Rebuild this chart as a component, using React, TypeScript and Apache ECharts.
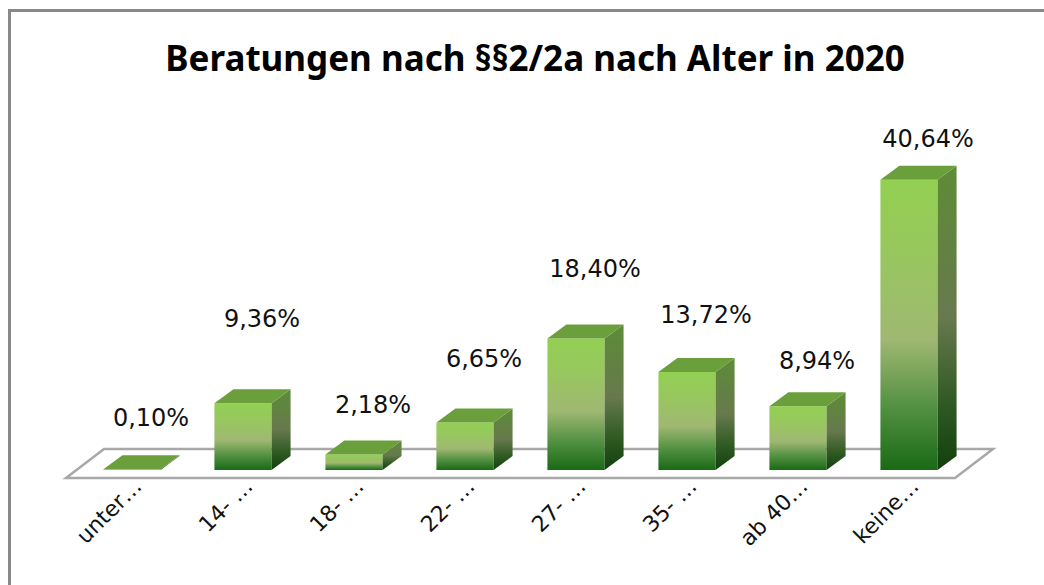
import React, { useEffect, useRef } from "react";
import * as echarts from "echarts";

const TITLE = "Beratungen nach §§2/2a nach Alter in 2020";
const categories = ["unter…", "14- …", "18- …", "22- …", "27- …", "35- …", "ab 40…", "keine…"];
const shares = [0.1, 9.36, 2.18, 6.65, 18.4, 13.72, 8.94, 40.64];

// style: vertical lift of each value label above its bar's front top edge (px)
const LABEL_LIFT = [51, 84, 49, 64, 70, 57, 45, 41];

const DX = 19;
const DY = 14;
const FONT = "DejaVu Sans";

const fmt = (v: number) => v.toFixed(2).replace(".", ",") + "%";

export default function App() {
  const ref = useRef<HTMLDivElement>(null);
  useEffect(() => {
    if (!ref.current) return;
    const chart = echarts.init(ref.current, null, { renderer: "svg" });
    const frontGrad = () =>
      new echarts.graphic.LinearGradient(0, 0, 0, 1, [
        { offset: 0, color: "#93d052" },
        { offset: 0.25, color: "#97c75e" },
        { offset: 0.55, color: "#a0b872" },
        { offset: 0.78, color: "#539143" },
        { offset: 1, color: "#1a6a15" },
      ]);
    const sideGrad = () =>
      new echarts.graphic.LinearGradient(0, 0, 0, 1, [
        { offset: 0, color: "#5d8c37" },
        { offset: 0.5, color: "#67794d" },
        { offset: 0.78, color: "#2f5a22" },
        { offset: 1, color: "#123f0e" },
      ]);
    const option: any = {
      animation: false,
      grid: { left: 76.5, right: 79.5, top: 148.7, bottom: 115, containLabel: false },
      xAxis: {
        type: "category",
        data: categories,
        axisLine: { show: false },
        axisTick: { show: false },
        axisLabel: {
          interval: 0,
          rotate: 45,
          margin: 18,
          padding: [0, -8, 0, 0],
          fontSize: 22,
          fontFamily: FONT,
          color: "#111",
        },
      },
      yAxis: { type: "value", min: 0, max: 45, show: false, splitLine: { show: false } },
      graphic: [
        {
          type: "rect",
          shape: { x: 9.5, y: 10.5, width: 1200, height: 800 },
          style: { fill: "none", stroke: "#898989", lineWidth: 3 },
          silent: true,
        },
        {
          type: "text",
          x: 535,
          y: 57,
          style: {
            text: TITLE,
            align: "center",
            verticalAlign: "middle",
            fontSize: 35,
            fontWeight: "bold",
            fontFamily: "Noto Sans",
            fill: "#000",
          },
        },
      ],
      series: [
        {
          type: "custom",
          z: 1,
          data: [[0, 0]],
          silent: true,
          renderItem: (params: any) => {
            const cs = params.coordSys;
            const fy = cs.y + cs.height + 8;
            const by = fy - 29;
            const fl = cs.x - 10.5;
            const fr = cs.x + cs.width - 9.5;
            return {
              type: "polygon",
              shape: {
                points: [
                  [fl, fy],
                  [fr, fy],
                  [fr + 38, by],
                  [fl + 38, by],
                ],
              },
              style: { fill: "#fff", stroke: "#a8a8a8", lineWidth: 2.5 },
            };
          },
        },
        {
          type: "custom",
          z: 2,
          data: shares.map((v, i) => [i, v]),
          renderItem: (params: any, api: any) => {
            const i = api.value(0);
            const v = api.value(1);
            const top = api.coord([i, v]);
            const base = api.coord([i, 0]);
            const bw = api.size([1, 0])[0] * 0.515;
            const x0 = base[0] - bw / 2;
            const x1 = base[0] + bw / 2;
            const yb = base[1];
            const yt = top[1];
            const children: any[] = [];
            if (yb - yt > 0.5) {
              children.push({
                type: "polygon",
                shape: { points: [[x0, yt], [x1, yt], [x1, yb], [x0, yb]] },
                style: { fill: frontGrad() },
              });
              children.push({
                type: "polygon",
                shape: { points: [[x1, yt], [x1 + DX, yt - DY], [x1 + DX, yb - DY], [x1, yb]] },
                style: { fill: sideGrad() },
              });
            }
            children.push({
              type: "polygon",
              shape: { points: [[x0, yt], [x1, yt], [x1 + DX, yt - DY], [x0 + DX, yt - DY]] },
              style: { fill: "#6b9f3b" },
            });
            children.push({
              type: "text",
              x: base[0] + DX,
              y: yt - LABEL_LIFT[i],
              style: {
                text: fmt(v),
                align: "center",
                verticalAlign: "middle",
                fontSize: 24,
                fontFamily: FONT,
                fill: "#111",
              },
            });
            return { type: "group", children };
          },
        },
      ],
    };
    chart.setOption(option);
    return () => chart.dispose();
  }, []);
  return (
    <div
      ref={ref}
      style={{ position: "fixed", left: 0, top: 0, width: 1044, height: 585, background: "#fff" }}
    />
  );
}
